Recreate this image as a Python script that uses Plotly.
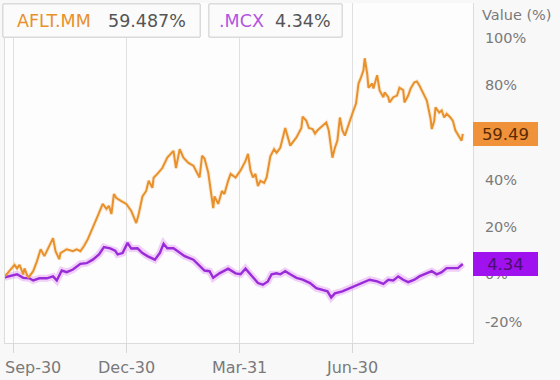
import pandas as pd
import plotly.graph_objects as go

base_date = "2020-09-30"

# AFLT.MM: days after base date, value (%)
aflt_days = [-7, 1, 3, 5, 8, 9, 12, 16, 19, 22, 25, 30, 32, 34, 37, 38, 43, 48, 51, 54, 57, 60, 64, 68, 72, 75, 77, 79, 81, 83, 87, 91, 95, 99, 101, 104, 107, 109, 112, 113, 116, 120, 124, 129, 131, 134, 137, 141, 145, 148, 150, 152, 154, 157, 159, 161, 162, 165, 168, 170, 173, 175, 179, 183, 187, 189, 191, 193, 195, 197, 199, 202, 204, 207, 210, 212, 215, 219, 223, 228, 232, 233, 236, 238, 241, 243, 245, 249, 252, 254, 256, 257, 259, 261, 263, 265, 267, 270, 273, 276, 278, 280, 282, 283, 285, 286, 289, 290, 293, 295, 298, 299, 302, 303, 306, 309, 311, 314, 315, 318, 320, 323, 325, 327, 331, 333, 336, 337, 339, 340, 343, 345, 347, 349, 352, 354, 356, 359, 361, 362]
aflt_vals = [-1.0, 4.0, 2.5, 4.0, 0.0, 2.5, -1.5, 1.3, 5.5, 10.6, 7.7, 12.8, 15.3, 9.8, 6.4, 9.0, 10.6, 9.8, 10.6, 9.8, 12.0, 14.9, 19.6, 24.7, 29.8, 27.7, 29.0, 25.5, 34.0, 32.3, 31.0, 29.8, 26.8, 21.7, 25.5, 33.0, 35.3, 39.6, 36.6, 40.9, 42.5, 45.0, 49.4, 52.3, 45.0, 53.0, 49.4, 47.2, 46.0, 43.0, 41.0, 50.2, 49.0, 43.0, 34.5, 28.0, 33.0, 29.8, 35.3, 34.0, 39.6, 42.5, 41.0, 44.0, 48.0, 51.0, 44.0, 41.0, 42.5, 37.4, 39.6, 38.7, 41.0, 50.0, 53.0, 51.5, 53.6, 62.0, 54.5, 58.0, 62.0, 66.8, 65.0, 62.0, 61.5, 59.6, 61.0, 63.0, 64.3, 61.0, 53.6, 49.4, 53.6, 56.6, 66.4, 61.0, 58.7, 63.8, 68.0, 72.3, 80.8, 83.4, 86.4, 91.5, 85.0, 79.0, 80.8, 78.7, 84.3, 77.9, 75.0, 77.0, 75.0, 72.8, 75.0, 75.7, 79.0, 78.0, 72.8, 75.7, 78.7, 81.3, 81.7, 80.0, 75.7, 73.6, 66.0, 61.5, 65.0, 70.7, 68.5, 69.4, 66.4, 68.0, 66.4, 65.0, 61.0, 58.7, 56.6, 59.49]

# .MCX: days after base date, value (%)
mcx_days = [-7, -3, 3, 8, 13, 16, 21, 27, 32, 35, 39, 43, 48, 54, 59, 64, 69, 73, 78, 82, 84, 88, 92, 95, 100, 104, 108, 114, 118, 121, 124, 129, 134, 138, 145, 150, 154, 158, 161, 166, 173, 179, 183, 187, 192, 197, 201, 205, 208, 212, 215, 219, 223, 228, 233, 239, 244, 249, 253, 256, 259, 265, 271, 277, 282, 287, 293, 298, 302, 306, 310, 314, 318, 323, 327, 333, 337, 341, 345, 349, 354, 358, 362]
mcx_vals = [-1.3, -0.9, 0.0, -1.5, -1.7, -2.6, -1.7, -1.7, -0.9, -2.6, 1.6, 0.9, 2.0, 4.4, 4.7, 6.2, 8.4, 11.5, 11.0, 10.0, 8.4, 9.0, 13.3, 10.9, 11.0, 9.0, 7.7, 6.2, 9.0, 12.9, 11.0, 11.0, 9.2, 7.7, 6.2, 3.4, 1.6, 1.3, -1.5, 0.4, 2.4, 0.4, 0.0, 2.4, -0.9, -3.7, -4.4, -3.0, 0.0, 0.4, 0.0, 1.3, 0.0, -1.5, -2.3, -3.7, -5.9, -6.5, -7.2, -9.8, -8.1, -7.2, -5.9, -4.7, -3.7, -2.3, -3.0, -4.1, -2.3, -2.6, -0.9, -2.3, -3.3, -2.3, -0.9, 0.4, 1.3, 0.0, 0.9, 2.6, 2.6, 2.6, 4.34]

series_names = ["AFLT.MM", ".MCX"]
legend_values = ["59.487%", "4.34%"]
end_labels = ["59.49", "4.34"]

x_tick_dates = ["2020-09-30", "2020-12-30", "2021-03-31", "2021-06-30"]
x_tick_text = ["Sep-30", "Dec-30", "Mar-31", "Jun-30"]
# the 60% label is fully hidden behind the orange end label in the reference
y_tick_vals = [-20, 0, 20, 40, 80, 100]
y_tick_text = ["-20%", "0%", "20%", "40%", "80%", "100%"]
y_grid_vals = [-20, 0, 20, 40, 60, 80, 100]

ORANGE = "#e8912c"
PURPLE = "#9a2bd8"
GREY_TXT = "#7a7a7a"
FONT = "DejaVu Sans"

b = pd.Timestamp(base_date)
aflt_x = [b + pd.Timedelta(days=d) for d in aflt_days]
mcx_x = [b + pd.Timedelta(days=d) for d in mcx_days]

fig = go.Figure()
# glow underlays
fig.add_trace(go.Scatter(x=mcx_x, y=mcx_vals, mode="lines",
                         line=dict(color="rgba(214,120,240,0.35)", width=7),
                         hoverinfo="skip", showlegend=False))
fig.add_trace(go.Scatter(x=aflt_x, y=aflt_vals, mode="lines",
                         line=dict(color="rgba(245,180,100,0.25)", width=4),
                         hoverinfo="skip", showlegend=False))
fig.add_trace(go.Scatter(x=mcx_x, y=mcx_vals, mode="lines", name=series_names[1],
                         line=dict(color=PURPLE, width=2.4), showlegend=False))
fig.add_trace(go.Scatter(x=aflt_x, y=aflt_vals, mode="lines", name=series_names[0],
                         line=dict(color=ORANGE, width=2), showlegend=False))

x_range = [b + pd.Timedelta(days=-6.7), b + pd.Timedelta(days=370.2)]

fig.update_layout(
    width=560, height=380,
    margin=dict(l=5, r=87, t=3, b=37),
    paper_bgcolor="#f8f8f8", plot_bgcolor="#fdfdfd",
    font=dict(family=FONT, color=GREY_TXT, size=14),
    xaxis=dict(range=x_range, tickvals=[pd.Timestamp(d) for d in x_tick_dates],
               showticklabels=False, showgrid=True, gridcolor="#e0e0e0", gridwidth=1,
               ticks="outside", ticklen=9, tickcolor="#d6d6d6",
               showline=True, linecolor="#dcdcdc", zeroline=False),
    yaxis=dict(range=[-29.1, 114.9], side="right", tickvals=y_tick_vals, ticktext=y_tick_text,
               showgrid=False, zeroline=False,
               showline=True, linecolor="#dcdcdc", mirror=True, ticks="",
               ticklabelstandoff=8, tickfont=dict(size=14.5, color=GREY_TXT, family=FONT)),
    showlegend=False,
)
for gv in y_grid_vals:
    fig.add_hline(y=gv, line=dict(color="#e0e0e0", width=1), layer="below")

annotations = []
# x tick labels
for i, (d, t) in enumerate(zip(x_tick_dates, x_tick_text)):
    annotations.append(dict(x=pd.Timestamp(d), y=-0.073, xref="x", yref="paper", text=t,
                            showarrow=False, xanchor="left" if i == 0 else "center",
                            xshift=-10 if i == 0 else 0, yanchor="middle",
                            font=dict(size=16, color=GREY_TXT, family=FONT)))
# axis title
annotations.append(dict(x=1.0, y=0.965, xref="paper", yref="paper", text="Value (%)",
                        showarrow=False, xanchor="left", xshift=7, yanchor="middle",
                        font=dict(size=14.5, color=GREY_TXT, family=FONT)))
# end labels
end_vals = [aflt_vals[-1], mcx_vals[-1]]
end_bg = ["#f0923a", "#a011ef"]
end_fg = ["#5a2a05", "#4b0f6e"]
for v, t, bg, fg in zip(end_vals, end_labels, end_bg, end_fg):
    annotations.append(dict(x=1.0, y=v, xref="paper", yref="y", text=t, showarrow=False,
                            xanchor="left", yanchor="middle", bgcolor=bg, width=61, height=20,
                            borderpad=2, borderwidth=0, align="center",
                            font=dict(size=16.5, color=fg, family=FONT)))

# legend boxes
shapes = []
box_px = [(3, 200), (209, 342)]
plot_l, plot_w = 5, 468
plot_t, plot_h = 3, 340
def px_to_paper_x(px):
    return (px - plot_l) / plot_w
def py_to_paper_y(py):
    return (plot_t + plot_h - py) / plot_h
for (x0, x1) in box_px:
    shapes.append(dict(type="rect", xref="paper", yref="paper",
                       x0=px_to_paper_x(x0), x1=px_to_paper_x(x1),
                       y0=py_to_paper_y(37), y1=py_to_paper_y(4),
                       fillcolor="#fbfbfb", line=dict(color="#d8d8d8", width=1), layer="above"))
name_px = [15, 217]
val_px = [106, 273]
name_colors = [ORANGE, "#b355e0"]
for nm, vl, nx, vx, c in zip(series_names, legend_values, name_px, val_px, name_colors):
    annotations.append(dict(x=px_to_paper_x(nx), y=py_to_paper_y(21), xref="paper", yref="paper",
                            text=nm, showarrow=False, xanchor="left", yanchor="middle",
                            font=dict(size=17.5, color=c, family=FONT)))
    annotations.append(dict(x=px_to_paper_x(vx), y=py_to_paper_y(21), xref="paper", yref="paper",
                            text=vl, showarrow=False, xanchor="left", yanchor="middle",
                            font=dict(size=17.5, color="#555555", family=FONT)))

fig.update_layout(annotations=annotations, shapes=shapes)
fig.write_html("out.html", config={"displayModeBar": False},
               post_script="document.body.style.margin='0';document.body.style.overflow='hidden';")
